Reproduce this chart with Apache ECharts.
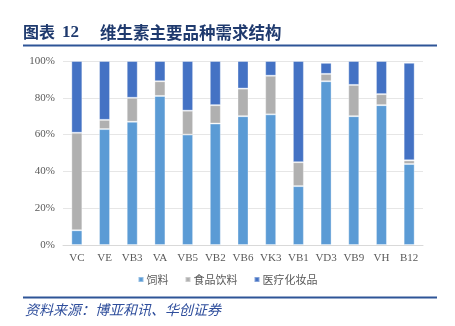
<!DOCTYPE html>
<html><head><meta charset="utf-8">
<script src="https://cdn.jsdelivr.net/npm/echarts@6/dist/echarts.min.js"></script>
<style>html,body{margin:0;padding:0;background:#fff}#c{width:455px;height:326px}</style>
</head><body><div id="c"></div>
<script>
const categories = ['VC','VE','VB3','VA','VB5','VB2','VB6','VK3','VB1','VD3','VB9','VH','B12'];
const feed     = [8, 63, 67, 81, 60, 66, 70, 71, 32, 89, 70, 76, 44];
const food     = [53, 5, 13, 8, 13, 10, 15, 21, 13, 4, 17, 6, 2];
const medical  = [39, 32, 20, 11, 27, 24, 15, 8, 55, 6, 13, 18, 53];
const seriesNames = ['饲料','食品饮料','医疗化妆品'];
const yTicks = [0, 20, 40, 60, 80, 100];

const chart = echarts.init(document.getElementById('c'), null, {renderer:'canvas'});
const colors = ['#5B9BD5','#B0B0B0','#4472C4'];
const mk = (name, data, i) => ({
  name, type:'bar', stack:'s', data, barWidth:11,
  itemStyle:{color:colors[i], borderColor:'rgba(255,255,255,0.35)', borderWidth:1}
});
chart.setOption({
  animation:false,
  color:colors,
  grid:{left:63, right:32, top:61, bottom:81},
  xAxis:{type:'category', data:categories,
    axisLine:{show:true, lineStyle:{color:'#D9D9D9'}}, axisTick:{show:false},
    axisLabel:{color:'#595959', fontFamily:'Liberation Serif', fontSize:11, margin:8, interval:0}},
  yAxis:{type:'value', min:yTicks[0], max:yTicks[yTicks.length-1], interval:20,
    axisLine:{show:false}, axisTick:{show:false},
    splitLine:{lineStyle:{color:'#E6E6E6', width:1}},
    axisLabel:{color:'#595959', fontFamily:'Liberation Serif', fontSize:11, margin:8, formatter:'{value}%'}},
  legend:{bottom:36, left:'center', itemWidth:5, itemHeight:5, itemGap:16, icon:'rect',
    textStyle:{color:'#595959', fontSize:11, fontFamily:'Noto Sans CJK SC', padding:[0,0,0,-2]},
    data:seriesNames},
  series:[mk(seriesNames[0], feed, 0), mk(seriesNames[1], food, 1), mk(seriesNames[2], medical, 2)],
  graphic:[
    {type:'text', left:23, top:24, style:{text:'图表', fill:'#1F3A6E', font:'bold 16px "Noto Sans CJK SC"'}},
    {type:'text', left:62, top:24, style:{text:'12', fill:'#1F3A6E', font:'bold 17px "Liberation Serif"'}},
    {type:'text', left:100, top:24, style:{text:'维生素主要品种需求结构', fill:'#1F3A6E', font:'bold 16.5px "Noto Sans CJK SC"'}},
    {type:'rect', shape:{x:23, y:44.5, width:414, height:2}, style:{fill:'#2E5597'}},
    {type:'rect', shape:{x:23, y:296.5, width:414, height:2}, style:{fill:'#2E5597'}},
    {type:'text', left:25, top:303, style:{text:'资料来源：博亚和讯、华创证券', fill:'#2F4E9C', font:'italic 14px "Noto Sans CJK SC"'}}
  ]
});
</script></body></html>
